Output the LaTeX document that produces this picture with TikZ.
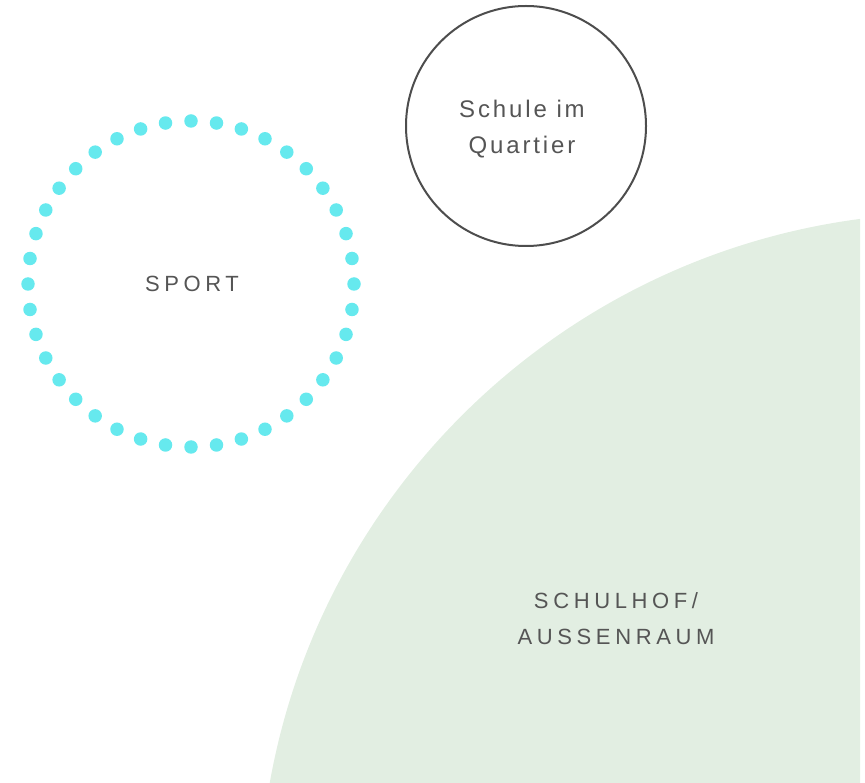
\documentclass[tikz,border=0pt]{standalone}
\usepackage{fontspec}
\usetikzlibrary{calc}
\setmainfont{Liberation Sans}
\newfontfamily\lblA[LetterSpace=21]{Liberation Sans}
\newfontfamily\lblB[LetterSpace=12]{Liberation Sans}
\definecolor{greenfill}{HTML}{E2EEE2}
\definecolor{dotcyan}{HTML}{66E9EE}
\definecolor{txtgray}{HTML}{555555}
\definecolor{linegray}{HTML}{4D4D4D}
\tikzset{
  dotstyle/.style={circle, fill=dotcyan, inner sep=0pt, minimum size=13.5pt},
  capslabel/.style={text=txtgray, font=\lblA\fontsize{22pt}{36pt}\selectfont, align=center, inner sep=0pt},
  smalllabel/.style={text=txtgray, font=\lblB\fontsize{24pt}{35.5pt}\selectfont, align=center, inner sep=0pt},
  ringnode/.style={circle, draw=linegray, line width=2pt, minimum size=240pt, inner sep=0pt}
}
\begin{document}
\begin{tikzpicture}[x=1pt,y=1pt]
\useasboundingbox (0,0) rectangle (865,-783);
% large green area
\begin{scope}
  \clip (0,0) rectangle (860,-783);
  \fill[greenfill] (951,-905) circle[radius=692];
\end{scope}
% dotted SPORT ring
\coordinate (sportc) at (191,-284);
\foreach \k in {0,...,39} {
  \node[dotstyle] (dot\k) at ($(sportc)+({90-9*\k}:163)$) {};
}
\node[capslabel, anchor=base] (sport) at (192,-291.5) {SPORT};
% Schule im Quartier
\node[ringnode] (schule) at (526,-126) {};
\node[smalllabel, anchor=base] (schuletxt) at (522,-153.5) {Schule im\\Quartier};
% Schulhof
\node[capslabel, anchor=base] (schulhof) at (616,-644) {SCHULHOF/\\AUSSENRAUM};
\end{tikzpicture}
\end{document}
